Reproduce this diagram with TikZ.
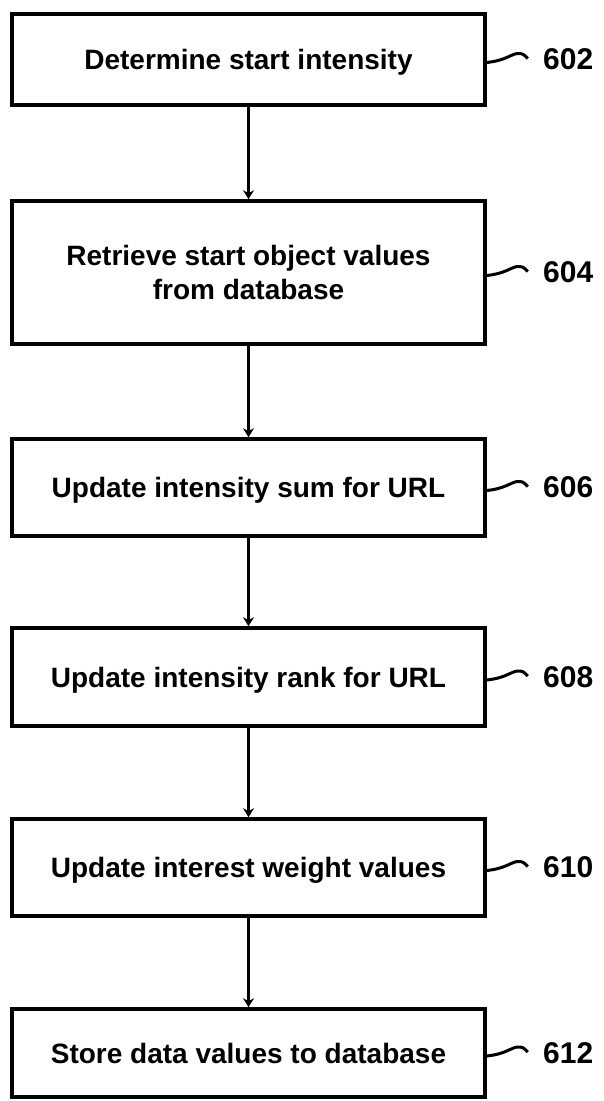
\documentclass[tikz,border=0pt]{standalone}
\usepackage{fontspec}
\setmainfont{Liberation Sans}
\usetikzlibrary{arrows.meta}

\tikzset{
  stepbox/.style={draw,line width=3.6pt,minimum width=473pt,align=center,text depth=0pt,font=\bfseries\fontsize{28}{34}\selectfont},
  reflabel/.style={anchor=west,inner sep=0pt,font=\bfseries\fontsize{30}{34}\selectfont},
  flow/.style={line width=3pt,-{Stealth[length=9pt,width=11pt]}},
  squig/.style={line width=3pt}
}

\begin{document}
\begin{tikzpicture}[x=1pt,y=-1pt]
\useasboundingbox (0,0) rectangle (604,1101);

\node[stepbox,minimum height=91pt] (s602) at (248.5,59.5) {Determine start intensity};
\node[stepbox,minimum height=143pt] (s604) at (248.5,272.5) {Retrieve start object values\\from database};
\node[stepbox,minimum height=97pt] (s606) at (248.5,487.5) {Update intensity sum for URL};
\node[stepbox,minimum height=98pt] (s608) at (248.5,677) {Update intensity rank for URL};
\node[stepbox,minimum height=97pt] (s610) at (248.5,867.5) {Update interest weight values};
\node[stepbox,minimum height=88pt] (s612) at (248.5,1053) {Store data values to database};

\node[reflabel] (l602) at (543,59.5) {602};
\node[reflabel] (l604) at (543,272.5) {604};
\node[reflabel] (l606) at (543,487.5) {606};
\node[reflabel] (l608) at (543,677) {608};
\node[reflabel] (l610) at (543,867.5) {610};
\node[reflabel] (l612) at (543,1053) {612};

\draw[flow] (s602) -- (s604);
\draw[flow] (s604) -- (s606);
\draw[flow] (s606) -- (s608);
\draw[flow] (s608) -- (s610);
\draw[flow] (s610) -- (s612);

% leader squiggles
\draw[squig] ([yshift=-3pt]s602.east) .. controls +(18,-2) and +(-8,2) .. ++(30,-9) .. controls +(6,0) .. ++(11,5);
\draw[squig] ([yshift=-3pt]s604.east) .. controls +(18,-2) and +(-8,2) .. ++(30,-9) .. controls +(6,0) .. ++(11,5);
\draw[squig] ([yshift=-3pt]s606.east) .. controls +(18,-2) and +(-8,2) .. ++(30,-9) .. controls +(6,0) .. ++(11,5);
\draw[squig] ([yshift=-3pt]s608.east) .. controls +(18,-2) and +(-8,2) .. ++(30,-9) .. controls +(6,0) .. ++(11,5);
\draw[squig] ([yshift=-3pt]s610.east) .. controls +(18,-2) and +(-8,2) .. ++(30,-9) .. controls +(6,0) .. ++(11,5);
\draw[squig] ([yshift=-3pt]s612.east) .. controls +(18,-2) and +(-8,2) .. ++(30,-9) .. controls +(6,0) .. ++(11,5);
\end{tikzpicture}
\end{document}
